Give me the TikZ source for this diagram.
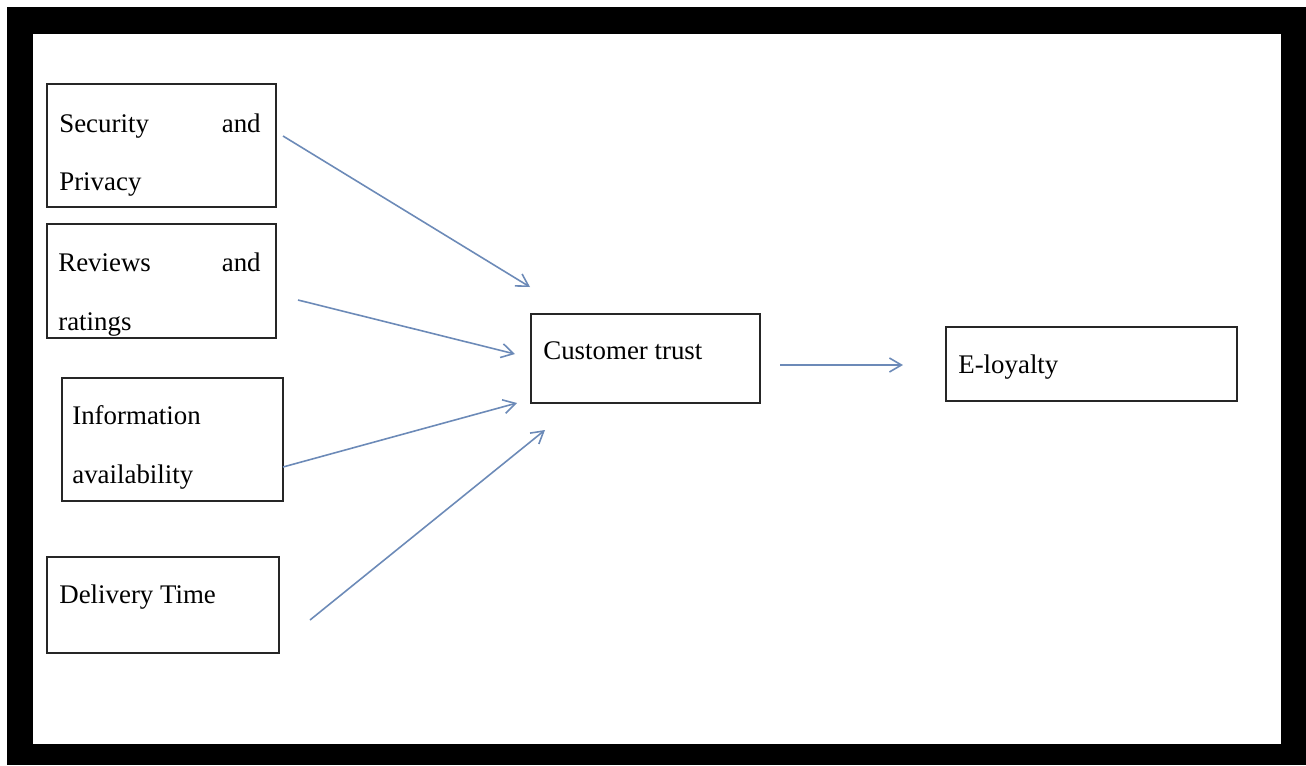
\documentclass[tikz,border=0pt]{standalone}
\usepackage{fontspec}
\setmainfont{Liberation Serif}
\usetikzlibrary{arrows.meta}
\newdimen\pxu \pxu=0.02cm
\definecolor{linkblue}{RGB}{108,138,184}

\begin{document}
\begin{tikzpicture}[x=0.02cm, y=-0.02cm, font=\fontsize{15.3}{18}\selectfont,
	box/.style={draw=black!85, line width=1.1pt, inner sep=0pt},
	lbl/.style={inner sep=0pt, anchor=base west},
	link/.style={draw=linkblue, line width=0.9pt, -{Straight Barb[length=2.4mm,width=2.8mm]}}]
	\useasboundingbox (0,0) rectangle (1306,765);
	\fill[white] (0,0) rectangle (1306,765);
	\fill[black] (7,7) rectangle (1306,765);
	\fill[white] (33,34) rectangle (1281,744);
	% boxes
	\node[box, minimum width=229\pxu, minimum height=123\pxu] (secbox) at (161.5,145.5) {};
	\node[box, minimum width=229\pxu, minimum height=114\pxu] (revbox) at (161.5,281) {};
	\node[box, minimum width=221\pxu, minimum height=123\pxu] (infbox) at (172.5,439.5) {};
	\node[box, minimum width=232\pxu, minimum height=96\pxu] (delbox) at (163,605) {};
	\node[box, minimum width=229\pxu, minimum height=89\pxu] (trubox) at (645.5,358.5) {};
	\node[box, minimum width=291\pxu, minimum height=74\pxu] (loybox) at (1091.5,364) {};
	% texts
	\node[lbl] (secA) at (59,132) {Security};
	\node[lbl, anchor=base east] (secB) at (261,132) {and};
	\node[lbl] (secC) at (59,190) {Privacy};
	\node[lbl] (revA) at (58,271) {Reviews};
	\node[lbl, anchor=base east] (revB) at (261,271) {and};
	\node[lbl] (revC) at (58,330) {ratings};
	\node[lbl] (infA) at (72,424) {Information};
	\node[lbl] (infB) at (72,483) {availability};
	\node[lbl] (delA) at (59,603) {Delivery Time};
	\node[lbl] (truA) at (543,359) {Customer trust};
	\node[lbl] (loyA) at (958,373) {E-loyalty};
	% arrows
	\coordinate (s1) at (283,136); \coordinate (e1) at (530,287);
	\coordinate (s2) at (298,300); \coordinate (e2) at (515,354);
	\coordinate (s3) at (283,467); \coordinate (e3) at (517,403);
	\coordinate (s4) at (310,620); \coordinate (e4) at (545,430);
	\coordinate (s5) at (780,365); \coordinate (e5) at (903,365);
	\draw[link] (s1) -- (e1);
	\draw[link] (s2) -- (e2);
	\draw[link] (s3) -- (e3);
	\draw[link] (s4) -- (e4);
	\draw[link] (s5) -- (e5);
\end{tikzpicture}
\end{document}
